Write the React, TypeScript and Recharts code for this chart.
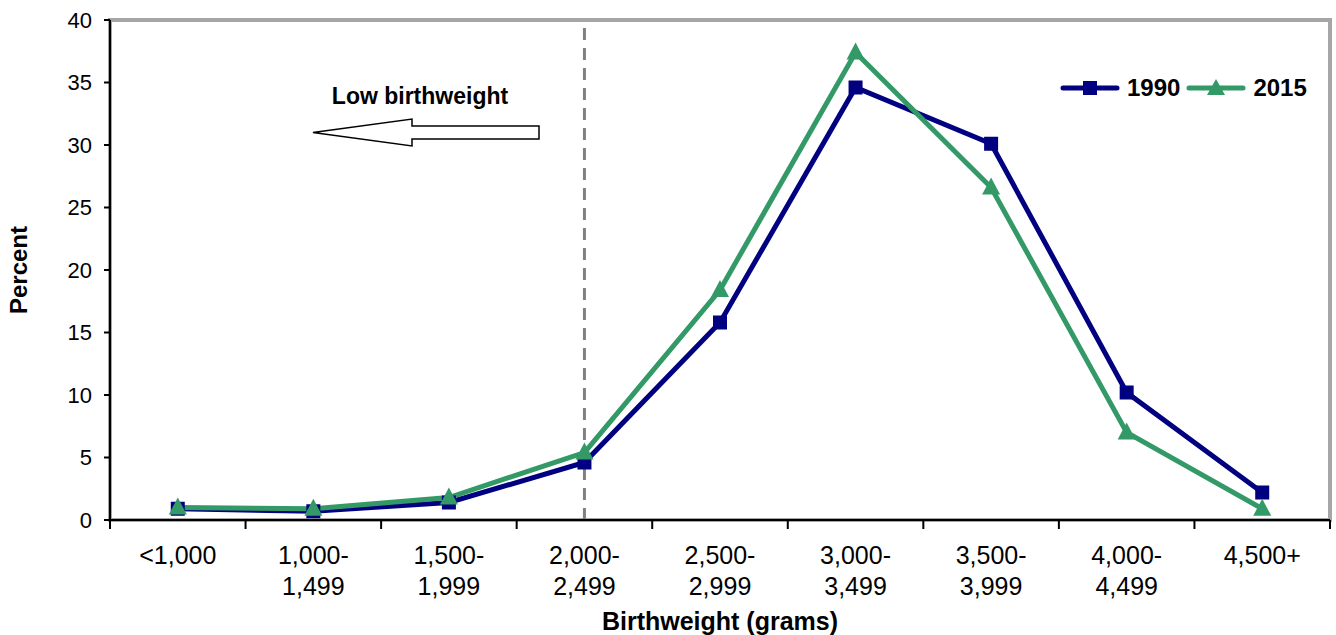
// 出生体重の分布（1990年 vs 2015年）
import { LineChart, Line, XAxis, YAxis, ReferenceLine, ReferenceArea, Legend } from "recharts";

const FONT = "'Liberation Sans', Arial, sans-serif";

// カテゴリ（出生体重の区分）
const categories = [
  "<1,000",
  "1,000-1,499",
  "1,500-1,999",
  "2,000-2,499",
  "2,500-2,999",
  "3,000-3,499",
  "3,500-3,999",
  "4,000-4,499",
  "4,500+",
];

// 各年の割合（%）
const pct1990 = [0.9, 0.7, 1.4, 4.6, 15.8, 34.6, 30.1, 10.2, 2.2];
const pct2015 = [1.0, 0.9, 1.8, 5.4, 18.4, 37.4, 26.6, 7.0, 0.9];

const yTicks = [0, 5, 10, 15, 20, 25, 30, 35, 40];
const lowBirthweightLimit = "2,000-2,499";

const NAVY = "#000080";
const GREEN = "#339966";

// プロット領域の幅（1区分あたりの幅で境界目盛りを描く）
const CHART_W = 1336;
const AXIS_W = 110;
const RIGHT_M = 6;
const BAND_W = (CHART_W - AXIS_W - RIGHT_M) / categories.length;

const data = categories.map((range, i) => ({
  range,
  y1990: pct1990[i],
  y2015: pct2015[i],
}));

// "1,000-1,499" → ["1,000-", "1,499"]
function splitLabel(v: string): string[] {
  const idx = v.indexOf("-");
  if (idx < 0 || idx === v.length - 1) return [v];
  return [v.slice(0, idx + 1), v.slice(idx + 1)];
}

const RangeTick = (props: any) => {
  const { x, y, payload, index, visibleTicksCount } = props;
  const parts = splitLabel(String(payload.value));
  const isLast = index === visibleTicksCount - 1;
  return (
    <g>
      {/* 区分の境界に目盛り線 */}
      <line x1={x - BAND_W / 2} x2={x - BAND_W / 2} y1={y} y2={y + 9} stroke="#000" strokeWidth={2} />
      {isLast && (
        <line x1={x + BAND_W / 2} x2={x + BAND_W / 2} y1={y} y2={y + 9} stroke="#000" strokeWidth={2} />
      )}
      <text x={x} y={y} textAnchor="middle" fontSize={25} fill="#000" fontFamily={FONT}>
        {parts.map((p, i) => (
          <tspan key={i} x={x} dy={i === 0 ? 44 : 31}>
            {p}
          </tspan>
        ))}
      </text>
    </g>
  );
};

const SquareDot = (props: any) => {
  const { cx, cy, index } = props;
  if (cx == null || cy == null) return <g key={`sq-${index}`} />;
  return <rect key={`sq-${index}`} x={cx - 7} y={cy - 7} width={14} height={14} fill={NAVY} />;
};

const TriangleDot = (props: any) => {
  const { cx, cy, index } = props;
  if (cx == null || cy == null) return <g key={`tr-${index}`} />;
  return (
    <polygon
      key={`tr-${index}`}
      points={`${cx},${cy - 10} ${cx - 9},${cy + 7} ${cx + 9},${cy + 7}`}
      fill={GREEN}
    />
  );
};

const legendItems = [
  { name: "1990", color: NAVY, marker: "square" },
  { name: "2015", color: GREEN, marker: "triangle" },
];

const renderLegend = () => (
  <div
    style={{
      display: "flex",
      alignItems: "center",
      fontFamily: FONT,
      fontWeight: "bold",
      fontSize: 24,
      color: "#000",
    }}
  >
    {legendItems.map((s) => (
      <span key={s.name} style={{ display: "flex", alignItems: "center", marginRight: 6 }}>
        <svg width={60} height={22}>
          <line x1={3} x2={57} y1={11} y2={11} stroke={s.color} strokeWidth={5} strokeLinecap="round" />
          {s.marker === "square" ? (
            <rect x={23} y={4} width={14} height={14} fill={s.color} />
          ) : (
            <polygon points="30,2 21,18 39,18" fill={s.color} />
          )}
        </svg>
        <span style={{ marginLeft: 7 }}>{s.name}</span>
      </span>
    ))}
  </div>
);

export default function App() {
  return (
    <div style={{ position: "absolute", left: 0, top: 0, width: CHART_W, height: 635, background: "#fff" }}>
      <LineChart
        width={CHART_W}
        height={635}
        data={data}
        margin={{ top: 20, right: RIGHT_M, left: 0, bottom: 0 }}
        style={{ fontFamily: FONT }}
      >
        <XAxis
          dataKey="range"
          scale="band"
          height={115}
          tickLine={false}
          tickSize={0}
          tickMargin={0}
          axisLine={{ stroke: "#000", strokeWidth: 2 }}
          tick={<RangeTick />}
          interval={0}
          label={{
            value: "Birthweight (grams)",
            position: "insideBottom",
            offset: 5,
            style: { fontWeight: "bold", fontSize: 25, fill: "#000", fontFamily: FONT },
          }}
        />
        <YAxis
          width={AXIS_W}
          domain={[0, 40]}
          ticks={yTicks}
          tickSize={6}
          tickMargin={12}
          axisLine={{ stroke: "#000", strokeWidth: 2 }}
          tickLine={{ stroke: "#000", strokeWidth: 2 }}
          tick={{ fontSize: 22, fill: "#000", fontFamily: FONT }}
          label={{
            value: "Percent",
            angle: -90,
            position: "insideLeft",
            offset: 18,
            style: { textAnchor: "middle", fontWeight: "bold", fontSize: 24, fill: "#000", fontFamily: FONT },
          }}
        />
        {/* プロット枠（灰色） */}
        <ReferenceArea
          x1={categories[0]}
          x2={categories[categories.length - 1]}
          y1={0}
          y2={40}
          fill="none"
          stroke="#a6a6a6"
          strokeWidth={4}
        />
        {/* 低出生体重の境界（破線） */}
        <ReferenceLine x={lowBirthweightLimit} stroke="#808080" strokeWidth={3} strokeDasharray="12 8" />
        <Legend
          layout="vertical"
          verticalAlign="middle"
          align="center"
          content={renderLegend}
          wrapperStyle={{ left: 1060, top: 74, width: 280 }}
        />
        <Line
          type="linear"
          dataKey="y1990"
          name="1990"
          stroke={NAVY}
          strokeWidth={5}
          dot={SquareDot}
          activeDot={false}
          isAnimationActive={false}
        />
        <Line
          type="linear"
          dataKey="y2015"
          name="2015"
          stroke={GREEN}
          strokeWidth={5}
          dot={TriangleDot}
          activeDot={false}
          isAnimationActive={false}
        />
      </LineChart>

      {/* 「Low birthweight」注釈と矢印 */}
      <svg
        width={CHART_W}
        height={635}
        style={{ position: "absolute", left: 0, top: 0, pointerEvents: "none" }}
      >
        <text x={420} y={104} textAnchor="middle" fontSize={23} fontWeight="bold" fontFamily={FONT} fill="#000">
          Low birthweight
        </text>
        <polygon
          points="313,132.5 412,119 412,126 539,126 539,139 412,139 412,146"
          fill="#fff"
          stroke="#000"
          strokeWidth={1.5}
        />
      </svg>
    </div>
  );
}
